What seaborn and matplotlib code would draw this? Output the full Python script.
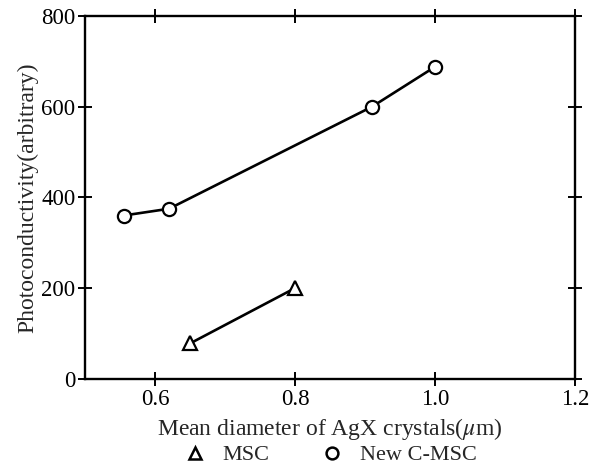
import matplotlib
matplotlib.use('Agg')
import matplotlib.pyplot as plt
from matplotlib.lines import Line2D
import seaborn as sns
import pandas as pd

# data
msc_x = [0.65, 0.80]
msc_y = [78, 200]
cmsc_x = [0.555, 0.62, 0.91, 1.00]
cmsc_y = [360, 375, 600, 688]

x_ticks = [0.6, 0.8, 1.0, 1.2]
y_ticks = [0, 200, 400, 600, 800]

sns.set_style('ticks')
plt.rcParams['font.family'] = ['Liberation Serif', 'DejaVu Serif']
plt.rcParams['mathtext.fontset'] = 'stix'

msc = pd.DataFrame({'x': msc_x, 'y': msc_y})
cmsc = pd.DataFrame({'x': cmsc_x, 'y': cmsc_y})

fig = plt.figure(figsize=(5.99, 4.70), dpi=100)
ax = fig.add_axes([0.142, 0.194, 0.818, 0.772])

mk = dict(markersize=9.5, markerfacecolor='white', markeredgecolor='black',
          markeredgewidth=1.6)
sns.lineplot(data=msc, x='x', y='y', ax=ax, color='black', lw=1.9, marker='^', **mk)
sns.lineplot(data=cmsc, x='x', y='y', ax=ax, color='black', lw=1.9, marker='o', **mk)

ax.set_xlim(0.5, 1.2)
ax.set_ylim(0, 800)
ax.set_xticks(x_ticks)
ax.set_xticklabels(['0.6', '0.8', '1.0', '1.2'])
ax.set_yticks(y_ticks)
ax.tick_params(direction='inout', length=10, width=1.4, labelsize=16.5,
               top=True, right=True, colors='black', pad=2)
for s in ax.spines.values():
    s.set_linewidth(1.7)
    s.set_color('black')

ax.set_xlabel('Mean diameter of AgX crystals($\\mu$m)', fontsize=17, labelpad=5)
ax.set_ylabel('Photoconductivity(arbitrary)', fontsize=17, labelpad=2)

leg_mk = dict(markersize=8.5, markerfacecolor='white', markeredgecolor='black',
              markeredgewidth=1.8)
handles = [
    Line2D([], [], ls='none', marker='^', label='MSC', **leg_mk),
    Line2D([], [], ls='none', marker='o', label='New C-MSC', **leg_mk),
]
ax.legend(handles=handles, loc='center', bbox_to_anchor=(0.5, -0.21), ncol=2,
          frameon=False, fontsize=16, handlelength=1.0, handletextpad=0.75,
          columnspacing=2.3, borderpad=0, borderaxespad=0)

fig.savefig('out.png', dpi=100)
